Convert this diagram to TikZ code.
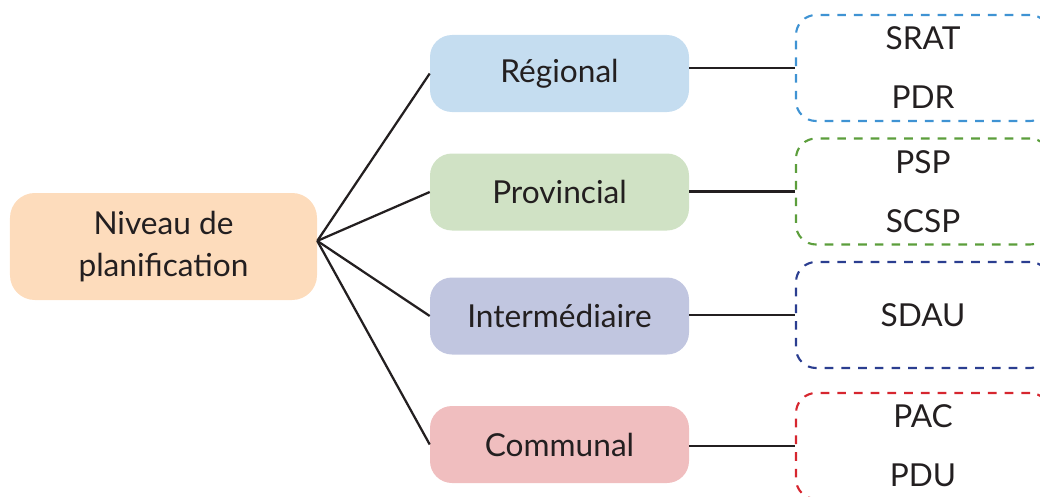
\documentclass[tikz,border=0pt]{standalone}
\usepackage{fontspec}
\setmainfont{Lato}
\usepackage{tikz}
\usetikzlibrary{
    positioning,           % Relative positioning
    calc                   % Coordinate calculations
}

\definecolor{peach}{HTML}{FDDCBC}
\definecolor{regblue}{HTML}{C5DDF0}
\definecolor{provgreen}{HTML}{D0E2C5}
\definecolor{interlav}{HTML}{C1C6E0}
\definecolor{commpink}{HTML}{F0BEBF}
\definecolor{dashblue}{HTML}{3F93D3}
\definecolor{dashgreen}{HTML}{5C9E3C}
\definecolor{dashnavy}{HTML}{2B3E90}
\definecolor{dashred}{HTML}{D6262F}
\definecolor{ink}{HTML}{231F20}

\tikzset{
    rootbox/.style={rounded corners=0.62cm, fill=peach, minimum width=7.675cm,
        minimum height=2.675cm, align=center, text=ink,
        font=\fontsize{22.5}{29.8}\selectfont},
    levelbox/.style={rounded corners=0.55cm, fill=#1, minimum width=6.475cm,
        minimum height=1.925cm, text=ink, font=\fontsize{22.5}{26}\selectfont},
    planbox/.style={draw=#1, line width=1.5pt, dash pattern=on 6.2pt off 5.7pt,
        rounded corners=0.5cm, minimum width=6.35cm, minimum height=2.65cm,
        align=center, text=ink, font=\fontsize{22.5}{42}\selectfont},
    link/.style={draw=ink, line width=1.6pt}
}

\begin{document}
\begin{tikzpicture}
    \useasboundingbox (0,0) rectangle (26,12.4);
    \clip (0,0) rectangle (26,12.4);

    % Root
    \node[rootbox] (niveau) at (4.0875,6.2375) {Niveau de\\planification};
    \coordinate (hub) at ($(niveau.east)+(0,0.14)$);

    % Levels
    \node[levelbox=regblue] (regional) at (13.9875,10.5625) {Régional};
    \node[levelbox=provgreen] (provincial) at (13.9875,7.6) {Provincial};
    \node[levelbox=interlav] (intermediaire) at (13.9875,4.5) {Intermédiaire};
    \node[levelbox=commpink] (communal) at (13.9875,1.2875) {Communal};

    % Plans
    \node[planbox=dashblue] (srat) at (23.075,10.7) {SRAT\\PDR};
    \node[planbox=dashgreen] (psp) at (23.075,7.6125) {PSP\\SCSP};
    \node[planbox=dashnavy] (sdau) at (23.075,4.525) {SDAU};
    \node[planbox=dashred] (pac) at (23.075,1.25) {PAC\\PDU};

    % Connectors
    \foreach \lvl/\plan in {regional/srat, provincial/psp, intermediaire/sdau, communal/pac} {
        \draw[link] (hub) -- (\lvl.west);
        \draw[link] (\plan.west -| \lvl.east) -- (\plan.west);
    }
\end{tikzpicture}
\end{document}
